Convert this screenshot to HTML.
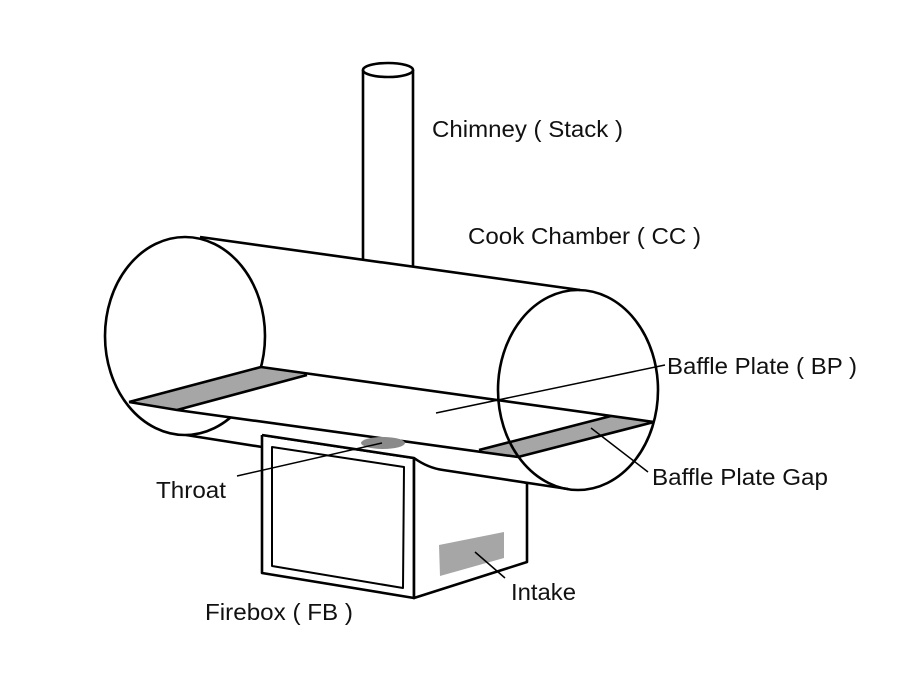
<!DOCTYPE html>
<html><head><meta charset="utf-8"><style>
html,body{margin:0;padding:0;background:#fff;}
svg{display:block}
text{font-family:"Liberation Sans",sans-serif;font-size:23px;fill:#111;}
</style></head><body>
<svg width="900" height="686" viewBox="0 0 900 686" xmlns="http://www.w3.org/2000/svg">
<rect width="900" height="686" fill="#fff"/>
<g stroke="#000" stroke-width="2.6" fill="none" stroke-linejoin="round">
<!-- chimney -->
<path d="M363,70 L363,264 M413,70 L413,270" />
<ellipse cx="388" cy="70" rx="25" ry="7" fill="#fff"/>
<!-- firebox -->
<polygon points="262,435 414,458 414,598 262,573" fill="#fff"/>
<polygon points="414,458 527,483 527,562 414,598" fill="#fff"/>
<polygon points="272,447 404,467 403,588 272,566" stroke-width="2"/>
<polygon points="439,545 504,532 504,558 440,576" fill="#a6a6a6" stroke="none"/>
<!-- cylinder body -->
<path d="M200,237 L578,290 L578,490 L560,489 L443,470 Q430,466 414,458 L262,435 L186,435 Z" fill="#fff" stroke="none"/>
<path d="M200,237 L580,290"/>
<path d="M186,435 L262,447 M262,435 L414,458 Q428,468 443,470 L568,489"/>
<ellipse cx="185" cy="336" rx="80" ry="99" fill="#fff"/>
<!-- plate -->
<polygon points="129,402 261,367 307,375 654,422 518,457 479,450 177,410" fill="#fff" stroke="none"/>
<polygon points="129,402 261,367 307,375 177,410" fill="#a6a6a6" stroke="none"/>
<polygon points="479,450 611,416 654,422 518,457" fill="#a6a6a6" stroke="none"/>
<path d="M129,402 L261,367 L654,422 M129,402 L177,410 L518,457 M177,410 L307,375 M479,450 L611,416 M518,457 L654,422"/>
<ellipse cx="578" cy="390" rx="80" ry="100"/>
<ellipse cx="383" cy="443" rx="22" ry="6" fill="#8a8a8a" stroke="none"/>
</g>
<!-- leaders -->
<g stroke="#000" stroke-width="1.5">
<line x1="237" y1="476" x2="382" y2="443"/>
<line x1="436" y1="413" x2="665" y2="365"/>
<line x1="591" y1="428" x2="648" y2="472"/>
<line x1="475" y1="552" x2="505" y2="578"/>
</g>
<text x="432" y="137" textLength="191" lengthAdjust="spacingAndGlyphs">Chimney ( Stack )</text>
<text x="468" y="244" textLength="233" lengthAdjust="spacingAndGlyphs">Cook Chamber ( CC )</text>
<text x="667" y="374" textLength="190" lengthAdjust="spacingAndGlyphs">Baffle Plate ( BP )</text>
<text x="652" y="485" textLength="176" lengthAdjust="spacingAndGlyphs">Baffle Plate Gap</text>
<text x="156" y="498" textLength="70" lengthAdjust="spacingAndGlyphs">Throat</text>
<text x="511" y="600" textLength="65" lengthAdjust="spacingAndGlyphs">Intake</text>
<text x="205" y="620" textLength="148" lengthAdjust="spacingAndGlyphs">Firebox ( FB )</text>
</svg>
</body></html>
